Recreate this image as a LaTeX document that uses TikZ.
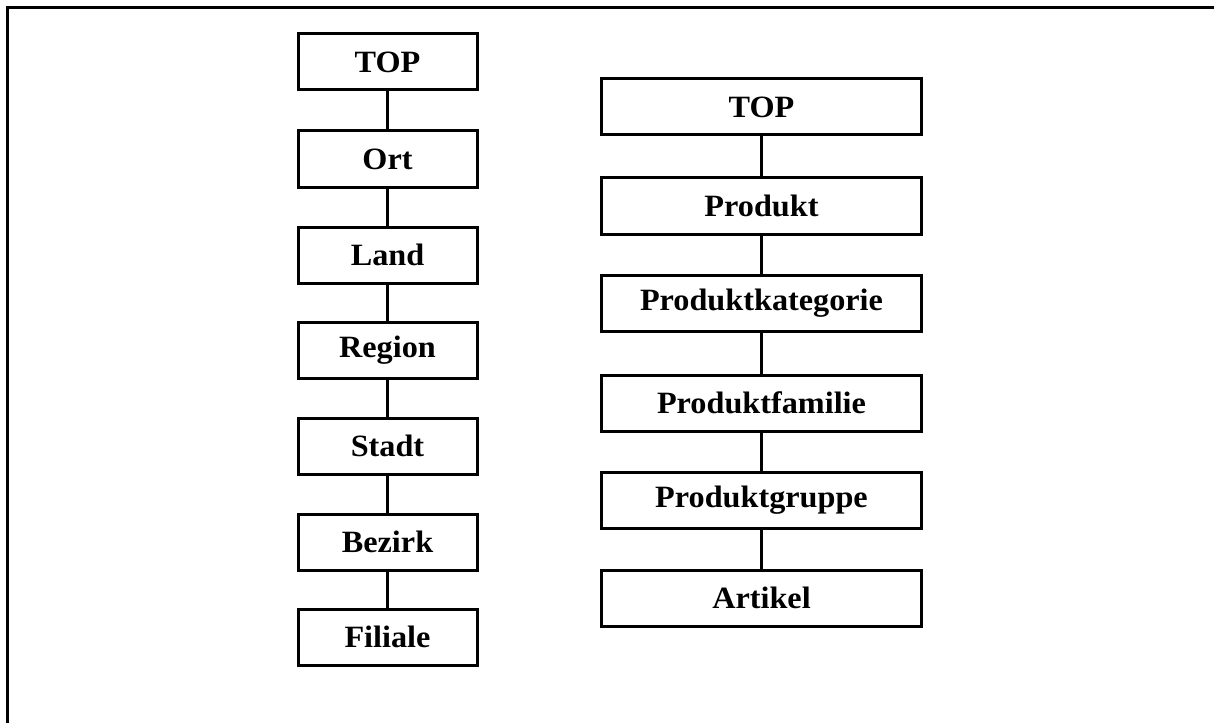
\documentclass[tikz,border=0pt]{standalone}
\usepackage{fontspec}
\setmainfont{Liberation Serif}[FakeStretch=1.04]
\begin{document}
\begin{tikzpicture}[x=1pt,y=-1pt,
  level/.style={draw, line width=3pt, rectangle, minimum height=56pt,
    inner sep=0pt, font=\fontsize{31}{36}\selectfont\bfseries},
  lefthier/.style={level, minimum width=179pt},
  righthier/.style={level, minimum width=320pt},
  link/.style={line width=3pt}]
\useasboundingbox (0,0) rectangle (1214,722);
\begin{scope}
  \clip (0,0) rectangle (1214,722);
  \draw[line width=3pt] (7.5,7.5) rectangle (1240,760);
\end{scope}

% location hierarchy
\node[lefthier] (l1) at (387.5,62) {TOP};
\node[lefthier] (l2) at (387.5,159) {Ort};
\node[lefthier] (l3) at (387.5,255) {Land};
\node[lefthier] (l4) at (387.5,350) {Region};
\node[lefthier] (l5) at (387.5,446) {Stadt};
\node[lefthier] (l6) at (387.5,542) {Bezirk};
\node[lefthier] (l7) at (387.5,637) {Filiale};
\foreach \a/\b in {l1/l2,l2/l3,l3/l4,l4/l5,l5/l6,l6/l7}
  \draw[link] (\a.south) -- (\b.north);

% product hierarchy
\node[righthier] (r1) at (761.5,107) {TOP};
\node[righthier] (r2) at (761.5,206) {Produkt};
\node[righthier] (r3) at (761.5,303) {Produktkategorie};
\node[righthier] (r4) at (761.5,403) {Produktfamilie};
\node[righthier] (r5) at (761.5,500) {Produktgruppe};
\node[righthier] (r6) at (761.5,598) {Artikel};
\foreach \a/\b in {r1/r2,r2/r3,r3/r4,r4/r5,r5/r6}
  \draw[link] (\a.south) -- (\b.north);
\end{tikzpicture}
\end{document}
